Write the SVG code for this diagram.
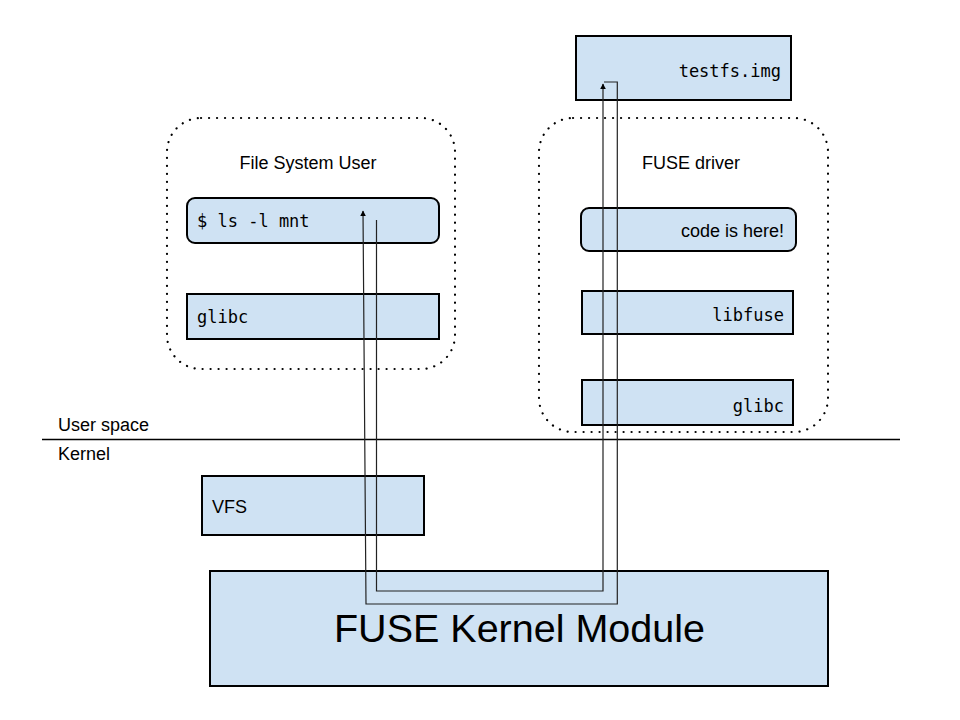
<svg xmlns="http://www.w3.org/2000/svg" width="960" height="720" viewBox="0 0 960 720">
<style>
.box{fill:#cfe2f3;stroke:#000;stroke-width:2}
.grp{fill:none;stroke:#000;stroke-width:2.2;stroke-dasharray:0.1 7.9;stroke-linecap:round}
.sans{font-family:"Liberation Sans",Arial,sans-serif;font-size:18px;fill:#000}
.mono{font-family:"DejaVu Sans Mono","Liberation Mono",monospace;font-size:17px;fill:#000}
.wire{fill:none;stroke:#222;stroke-width:1.2}
</style>
<defs>
<marker id="ah" viewBox="0 0 10 10" refX="9" refY="5" markerWidth="6" markerHeight="6" orient="auto" markerUnits="userSpaceOnUse">
<path d="M0,0 L10,5 L0,10 z" fill="#000"/>
</marker>
</defs>
<rect width="960" height="720" fill="#fff"/>

<g id="fs-user-group">
<rect class="grp" x="167" y="118" width="288" height="251" rx="34"/>
<text class="sans" x="308" y="169" text-anchor="middle">File System User</text>
</g>
<g id="fuse-driver-group">
<rect class="grp" x="539" y="118" width="289" height="314" rx="34"/>
<text class="sans" x="691" y="169" text-anchor="middle">FUSE driver</text>
</g>

<g id="testfs">
<rect class="box" x="576" y="36" width="215" height="64"/>
<text class="mono" x="781" y="77" text-anchor="end">testfs.img</text>
</g>
<g id="ls">
<rect class="box" x="187" y="198" width="252" height="45" rx="8"/>
<text class="mono" x="197" y="227">$ ls -l mnt</text>
</g>
<g id="glibc-user">
<rect class="box" x="187" y="294" width="252" height="45"/>
<text class="mono" x="197" y="323">glibc</text>
</g>
<g id="code">
<rect class="box" x="581" y="208" width="215" height="43" rx="8"/>
<text class="sans" x="784" y="237" text-anchor="end">code is here!</text>
</g>
<g id="libfuse">
<rect class="box" x="582" y="291" width="211" height="43"/>
<text class="mono" x="784" y="321" text-anchor="end">libfuse</text>
</g>
<g id="glibc-driver">
<rect class="box" x="582" y="380" width="211" height="45"/>
<text class="mono" x="784" y="412" text-anchor="end">glibc</text>
</g>

<g id="separator">
<line x1="42" y1="439.5" x2="900" y2="439.5" stroke="#000" stroke-width="1.5"/>
<text class="sans" x="58" y="431">User space</text>
<text class="sans" x="58" y="460">Kernel</text>
</g>

<g id="vfs">
<rect class="box" x="202" y="476" width="222" height="59"/>
<text class="sans" x="212" y="513">VFS</text>
</g>
<g id="fuse-kernel">
<rect class="box" x="210" y="571" width="618" height="115"/>
<text x="519.5" y="642" text-anchor="middle" style="font-family:'Liberation Sans',Arial,sans-serif;font-size:39.5px;fill:#000">FUSE Kernel Module</text>
</g>

<g id="connectors">
<polyline class="wire" points="376.5,220 376.5,591 603,591 603,84" marker-end="url(#ah)"/>
<polyline class="wire" points="604,82 617.3,82 617.3,604 366,604 363,211" stroke="#444" marker-end="url(#ah)"/>
</g>
</svg>
